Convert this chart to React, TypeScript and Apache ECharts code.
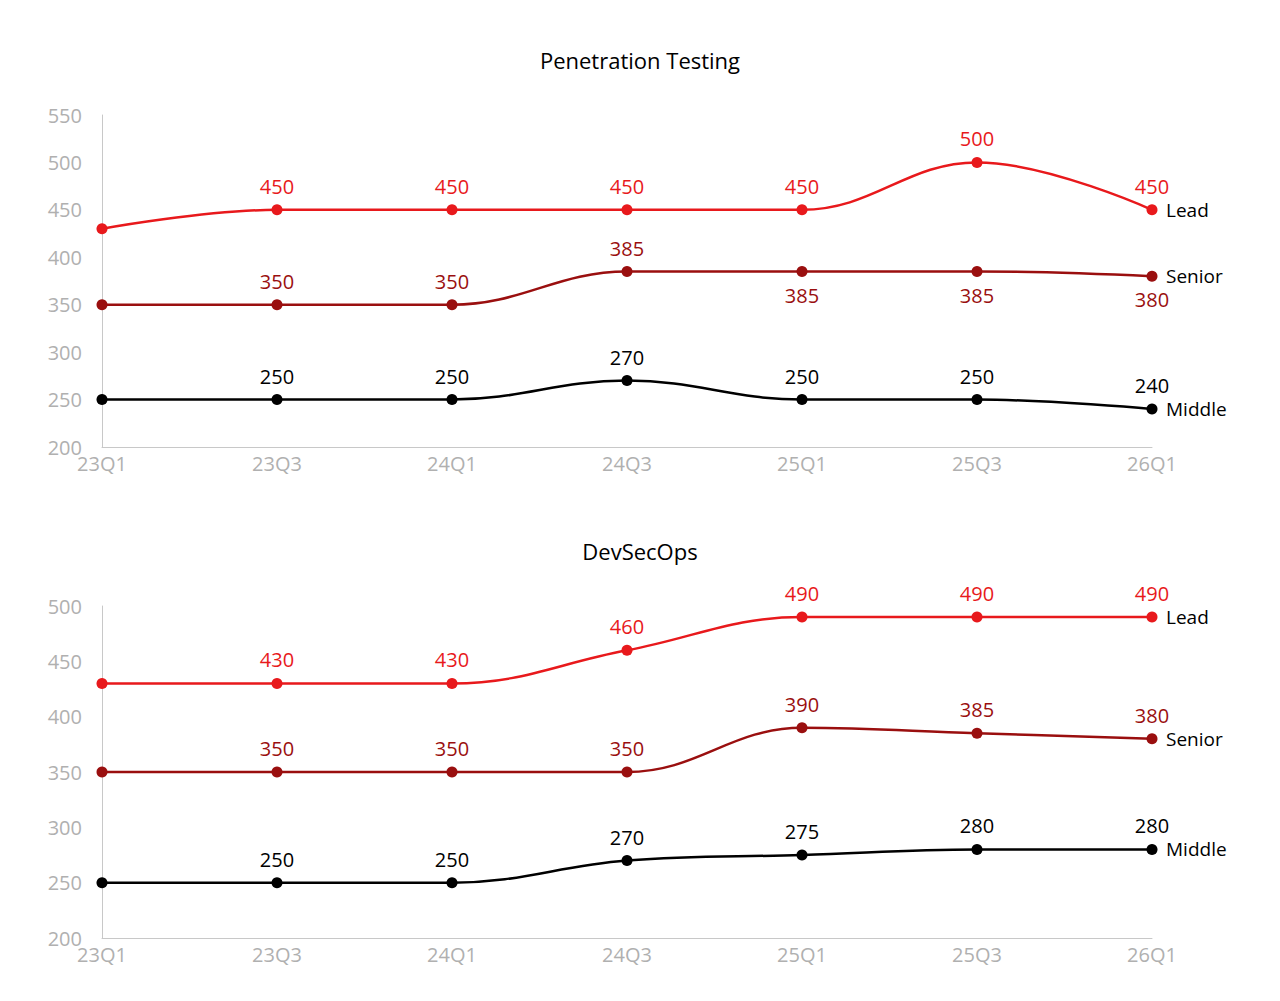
import React, { useEffect, useRef } from 'react';
import * as echarts from 'echarts';

// only half-year points are plotted
const points = ['23Q1', '23Q3', '24Q1', '24Q3', '25Q1', '25Q3', '26Q1'];

const penLead = [430, 450, 450, 450, 450, 500, 450];
const penSenior = [350, 350, 350, 385, 385, 385, 380];
const penMiddle = [250, 250, 250, 270, 250, 250, 240];
const penSeniorBelow = [false, false, false, false, true, true, true];

const devLead = [430, 430, 430, 460, 490, 490, 490];
const devSenior = [350, 350, 350, 350, 390, 385, 380];
const devMiddle = [250, 250, 250, 270, 275, 280, 280];

const LEAD = '#e8191c';
const SENIOR = '#9a0f0f';
const MIDDLE = '#000000';
const FONT = '"Open Sans", sans-serif';

function mkData(values: number[], below?: boolean[]) {
  return values.map((v, i) => ({
    value: v,
    label: { show: i > 0, position: below && below[i] ? 'bottom' : 'top' },
  }));
}

function mkSeries(name: string, values: number[], color: string, idx: number, below?: boolean[]) {
  return {
    name,
    type: 'line',
    xAxisIndex: idx,
    yAxisIndex: idx,
    smooth: 0.4,
    data: mkData(values, below),
    symbol: 'circle',
    symbolSize: 11,
    itemStyle: { color },
    lineStyle: { color, width: 2.5 },
    label: { color, fontSize: 20, fontFamily: FONT, distance: 8 },
    endLabel: {
      show: true,
      formatter: name,
      color: '#000',
      fontSize: 19,
      fontFamily: FONT,
      distance: 14,
    },
  };
}

export default function App() {
  const ref = useRef<HTMLDivElement | null>(null);
  useEffect(() => {
    if (!ref.current) return;
    const inst = echarts.init(ref.current, undefined, { renderer: 'svg' });
    const xAxis = (gi: number) => ({
      type: 'category',
      gridIndex: gi,
      data: points,
      boundaryGap: false,
      axisLine: { lineStyle: { color: '#c8c8c8' } },
      axisTick: { show: false },
      axisLabel: { color: '#b0b0b0', fontSize: 20, fontFamily: FONT, margin: 6 },
    });
    const yAxis = (gi: number, max: number) => ({
      type: 'value',
      gridIndex: gi,
      min: 200,
      max,
      interval: 50,
      axisLine: { show: true, lineStyle: { color: '#c8c8c8' } },
      axisTick: { show: false },
      splitLine: { show: false },
      axisLabel: { color: '#b0b0b0', fontSize: 20, fontFamily: FONT, margin: 20 },
    });
    inst.setOption({
      animation: false,
      backgroundColor: '#fff',
      title: [
        { text: 'Penetration Testing', left: 'center', top: 36, textStyle: { fontSize: 22, fontWeight: 'normal', fontFamily: FONT, color: '#000' } },
        { text: 'DevSecOps', left: 'center', top: 527, textStyle: { fontSize: 22, fontWeight: 'normal', fontFamily: FONT, color: '#000' } },
      ],
      grid: [
        { left: 94, right: 120, top: 107, height: 332 },
        { left: 94, right: 120, top: 598, height: 332 },
      ],
      xAxis: [xAxis(0), xAxis(1)],
      yAxis: [yAxis(0, 550), yAxis(1, 500)],
      series: [
        mkSeries('Lead', penLead, LEAD, 0),
        mkSeries('Senior', penSenior, SENIOR, 0, penSeniorBelow),
        mkSeries('Middle', penMiddle, MIDDLE, 0),
        mkSeries('Lead', devLead, LEAD, 1),
        mkSeries('Senior', devSenior, SENIOR, 1),
        mkSeries('Middle', devMiddle, MIDDLE, 1),
      ],
    });
    return () => inst.dispose();
  }, []);
  return <div ref={ref} style={{ width: 1264, height: 985 }} />;
}
